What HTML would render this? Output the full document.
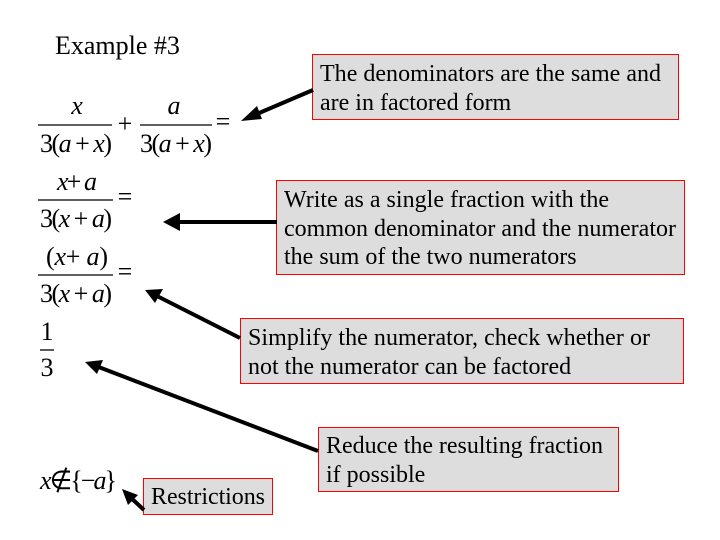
<!DOCTYPE html>
<html><head><meta charset="utf-8"><style>
html,body{margin:0;padding:0;background:#fff;}
svg{display:block;}
text{font-family:"Liberation Serif",serif;fill:#000;}
.m{font-size:26px;}
.i{font-style:italic;}
.b{font-size:24px;}
</style></head><body>
<svg width="720" height="540" viewBox="0 0 720 540" xmlns="http://www.w3.org/2000/svg">
<text x="55" y="54" font-size="26">Example #3</text>

<!-- Eq1 -->
<text x="77" y="114" class="m i" text-anchor="middle">x</text>
<line x1="38" y1="125" x2="112" y2="125" stroke="#000" stroke-width="1.3"/>
<text x="40" y="152" class="m" textLength="72" lengthAdjust="spacing">3(<tspan class="i">a</tspan> + <tspan class="i">x</tspan>)</text>
<text x="125" y="132" class="m" text-anchor="middle">+</text>
<text x="174" y="114" class="m i" text-anchor="middle">a</text>
<line x1="140" y1="125" x2="212" y2="125" stroke="#000" stroke-width="1.3"/>
<text x="140" y="152" class="m" textLength="72" lengthAdjust="spacing">3(<tspan class="i">a</tspan> + <tspan class="i">x</tspan>)</text>
<text x="223" y="130" class="m" text-anchor="middle">=</text>

<!-- Eq2 -->
<text x="57" y="190" class="m" textLength="40" lengthAdjust="spacing"><tspan class="i">x</tspan>+ <tspan class="i">a</tspan></text>
<line x1="38" y1="200" x2="113" y2="200" stroke="#000" stroke-width="1.3"/>
<text x="40" y="227" class="m" textLength="72" lengthAdjust="spacing">3(<tspan class="i">x</tspan> + <tspan class="i">a</tspan>)</text>
<text x="125" y="205" class="m" text-anchor="middle">=</text>

<!-- Eq3 -->
<text x="46" y="265" class="m" textLength="62" lengthAdjust="spacing">(<tspan class="i">x</tspan>+ <tspan class="i">a</tspan>)</text>
<line x1="38" y1="275" x2="113" y2="275" stroke="#000" stroke-width="1.3"/>
<text x="40" y="302" class="m" textLength="72" lengthAdjust="spacing">3(<tspan class="i">x</tspan> + <tspan class="i">a</tspan>)</text>
<text x="125" y="280" class="m" text-anchor="middle">=</text>

<!-- 1/3 -->
<text x="47" y="340" class="m" text-anchor="middle">1</text>
<line x1="40" y1="350" x2="54" y2="350" stroke="#000" stroke-width="1.3"/>
<text x="47" y="376" class="m" text-anchor="middle">3</text>

<!-- restriction -->
<text x="40" y="489" class="m" textLength="77" lengthAdjust="spacing"><tspan class="i">x</tspan>∉{−<tspan class="i">a</tspan>}</text>

<!-- boxes -->
<rect x="312.5" y="54.5" width="366" height="65" fill="#ddd" stroke="#f00"/>
<text x="320" y="81" class="b" textLength="341">The denominators are the same and</text>
<text x="320" y="110" class="b">are in factored form</text>

<rect x="276.5" y="180.5" width="408" height="94" fill="#ddd" stroke="#f00"/>
<text x="284" y="207" class="b" textLength="325">Write as a single fraction with the</text>
<text x="284" y="236" class="b" textLength="392">common denominator and the numerator</text>
<text x="284" y="264" class="b">the sum of the two numerators</text>

<rect x="240.5" y="318.5" width="443" height="65" fill="#ddd" stroke="#f00"/>
<text x="248" y="345" class="b" textLength="402">Simplify the numerator, check whether or</text>
<text x="248" y="374" class="b">not the numerator can be factored</text>

<rect x="318.5" y="427.5" width="300" height="64" fill="#ddd" stroke="#f00"/>
<text x="326" y="453" class="b" textLength="277">Reduce the resulting fraction</text>
<text x="326" y="482" class="b">if possible</text>

<rect x="143.5" y="478.5" width="129" height="36" fill="#ddd" stroke="#f00"/>
<text x="151" y="504" class="b" textLength="114">Restrictions</text>

<!-- arrows -->
<g stroke="#000" stroke-width="4" fill="none">
<line x1="313" y1="90" x2="252" y2="116"/>
<line x1="277" y1="222" x2="175" y2="222"/>
<line x1="240" y1="338" x2="155" y2="295"/>
<line x1="318" y1="451" x2="96" y2="366"/>
<line x1="144" y1="510" x2="129" y2="496"/>
</g>
<g fill="#000">
<polygon points="241,121 257,106 262,119"/>
<polygon points="163,222 180,213 180,231"/>
<polygon points="145,290 163,289 155,303"/>
<polygon points="85,362 103,360 97,374"/>
<polygon points="122,489 138,495 128,505"/>
</g>
</svg>
</body></html>
